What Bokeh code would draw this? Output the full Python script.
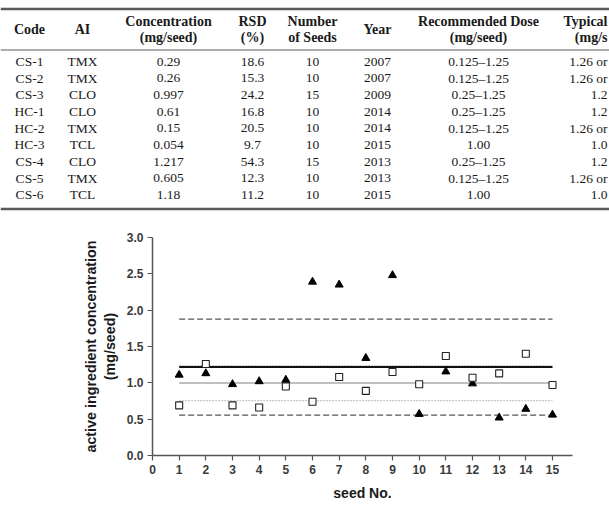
from bokeh.plotting import figure
from bokeh.layouts import column
from bokeh.models import Range1d, FixedTicker, PrintfTickFormatter
from bokeh.core.properties import value
from bokeh.embed import file_html
from bokeh.resources import INLINE

# ---------------- data ----------------
codes = ["CS-1", "CS-2", "CS-3", "HC-1", "HC-2", "HC-3", "CS-4", "CS-5", "CS-6"]
ais = ["TMX", "TMX", "CLO", "CLO", "TMX", "TCL", "CLO", "TMX", "TCL"]
conc = ["0.29", "0.26", "0.997", "0.61", "0.15", "0.054", "1.217", "0.605", "1.18"]
rsd = ["18.6", "15.3", "24.2", "16.8", "20.5", "9.7", "54.3", "12.3", "11.2"]
n_seeds = ["10", "10", "15", "10", "10", "10", "15", "10", "10"]
years = ["2007", "2007", "2009", "2014", "2014", "2015", "2013", "2013", "2015"]
rec_dose = ["0.125–1.25", "0.125–1.25", "0.25–1.25", "0.25–1.25", "0.125–1.25",
            "1.00", "0.25–1.25", "0.125–1.25", "1.00"]
# last column is cut off at the right edge of the reference: only the visible part
typical = ["1.26 or", "1.26 or", "1.2", "1.2", "1.26 or", "1.0", "1.2", "1.26 or", "1.0"]
header_top = ["Code", "AI", "Concentration", "RSD", "Number", "Year",
              "Recommended Dose"]
header_bottom = ["", "", "(mg/seed)", "(%)", "of Seeds", "", "(mg/seed)"]
typical_header = ["Typical", "(mg/s"]

seed_no = [1, 2, 3, 4, 5, 6, 7, 8, 9, 10, 11, 12, 13, 14, 15]
cs4_values = [1.11, 1.13, 0.98, 1.02, 1.04, 2.39, 2.35, 1.34, 2.48,
              0.57, 1.155, 0.99, 0.52, 0.64, 0.56]
cs3_values = [0.69, 1.26, 0.69, 0.66, 0.95, 0.74, 1.08, 0.89, 1.15,
              0.98, 1.37, 1.07, 1.13, 1.40, 0.97]
cs4_mean, cs4_rsd = 1.217, 54.3
cs3_mean, cs3_rsd = 0.997, 24.2

x_ticks = [0] + seed_no
y_ticks = [0.0, 0.5, 1.0, 1.5, 2.0, 2.5, 3.0]

# ---------------- table ----------------
W = 609
TH = 212
col_x = [29, 82, 168, 252, 312, 377, 478]
typ_right = 607
row_y0, row_dy = 61, 16.67
serif = value("Liberation Serif")

t = figure(width=W, height=TH, x_range=Range1d(0, W), y_range=Range1d(TH, 0),
           x_axis_type=None, y_axis_type=None, toolbar_location=None,
           output_backend="svg", min_border=0)
t.outline_line_color = None
t.grid.visible = False

hx, hy, ht = [], [], []
for cx, a, b in zip(col_x, header_top, header_bottom):
    if b:
        hx += [cx, cx]; hy += [21, 37]; ht += [a, b]
    else:
        hx.append(cx); hy.append(29); ht.append(a)
t.text(x=hx, y=hy, text=ht, text_align="center", text_baseline="middle",
       text_font=serif, text_font_style="bold",
       text_font_size="14px", text_color="#1a1a1a")
t.text(x=[typ_right, typ_right], y=[21, 37], text=typical_header, text_align="right",
       text_baseline="middle", text_font=serif, text_font_style="bold",
       text_font_size="14px", text_color="#1a1a1a")

columns = [codes, ais, conc, rsd, n_seeds, years, rec_dose]
dx, dy, dt = [], [], []
for cx, vals in zip(col_x, columns):
    for i, v in enumerate(vals):
        dx.append(cx); dy.append(row_y0 + row_dy * i); dt.append(v)
t.text(x=dx, y=dy, text=dt, text_align="center", text_baseline="middle",
       text_font=serif, text_font_size="13.5px", text_color="#1a1a1a")
t.text(x=[typ_right] * len(typical), y=[row_y0 + row_dy * i for i in range(len(typical))],
       text=typical, text_align="right", text_baseline="middle",
       text_font=serif, text_font_size="13.5px", text_color="#1a1a1a")

for yy, lw in ((8.5, 2.4), (49.5, 1.2), (208.5, 2.4)):
    t.segment(x0=0, x1=W, y0=yy, y1=yy, line_width=lw, line_color="#5a5a5a")

# ---------------- chart ----------------
p = figure(width=W, height=505 - TH, x_range=Range1d(0, 15.75), y_range=Range1d(0, 3.0),
           toolbar_location=None, output_backend="svg",
           min_border_left=152, min_border_right=37, min_border_top=25, min_border_bottom=50)
p.outline_line_color = None
p.grid.visible = False

x0, x1 = seed_no[0], seed_no[-1]
sd3 = cs3_mean * cs3_rsd / 100
sd4 = cs4_mean * cs4_rsd / 100
# CS-3 band (grey)
p.segment(x0=[x0, x0], x1=[x1, x1], y0=[cs3_mean + sd3, cs3_mean - sd3],
          y1=[cs3_mean + sd3, cs3_mean - sd3], line_color="#c8c8c8", line_width=1.2,
          line_dash="2 1")
p.segment(x0=[x0], x1=[x1], y0=[cs3_mean], y1=[cs3_mean], line_color="#ababab", line_width=1.6)
# CS-4 (black)
p.segment(x0=[x0, x0], x1=[x1, x1], y0=[cs4_mean + sd4, cs4_mean - sd4],
          y1=[cs4_mean + sd4, cs4_mean - sd4], line_color="#555555", line_width=1.2,
          line_dash="6 3")
p.segment(x0=[x0], x1=[x1], y0=[cs4_mean], y1=[cs4_mean], line_color="#111111", line_width=2)

p.scatter(x=seed_no, y=cs4_values, marker="triangle", size=8,
          fill_color="#000000", line_color="#000000")
p.scatter(x=seed_no, y=cs3_values, marker="square", size=7,
          fill_color="#ffffff", line_color="#222222", line_width=1.1)

for ax in (p.xaxis[0], p.yaxis[0]):
    ax.axis_line_color = "#555555"
    ax.axis_line_width = 1.5
    ax.major_tick_line_color = "#555555"
    ax.major_tick_line_width = 1.2
    ax.major_tick_out = 5
    ax.major_tick_in = 0
    ax.minor_tick_line_color = None
    ax.major_label_text_font = "Liberation Sans"
    ax.major_label_text_font_style = "bold"
    ax.major_label_text_font_size = "12px"
    ax.major_label_text_color = "#3a3a3a"
    ax.axis_label_text_font = "Liberation Sans"
    ax.axis_label_text_font_style = "bold"
    ax.axis_label_text_color = "#1a1a1a"

p.xaxis.ticker = FixedTicker(ticks=x_ticks)
p.yaxis.ticker = FixedTicker(ticks=y_ticks)
p.yaxis.formatter = PrintfTickFormatter(format="%.1f")
p.xaxis.axis_label = "seed No."
p.xaxis.axis_label_text_font_size = "14px"
p.xaxis.axis_label_standoff = 8
p.xaxis.major_label_standoff = 4
p.yaxis.axis_label = "active ingredient concentration\n(mg/seed)"
p.yaxis.axis_label_text_font_size = "14.3px"
p.yaxis.axis_label_standoff = 6
p.yaxis.major_label_standoff = 4

layout = column(column(t), column(p), spacing=0)
open("out.html", "w").write(file_html(layout, INLINE))
